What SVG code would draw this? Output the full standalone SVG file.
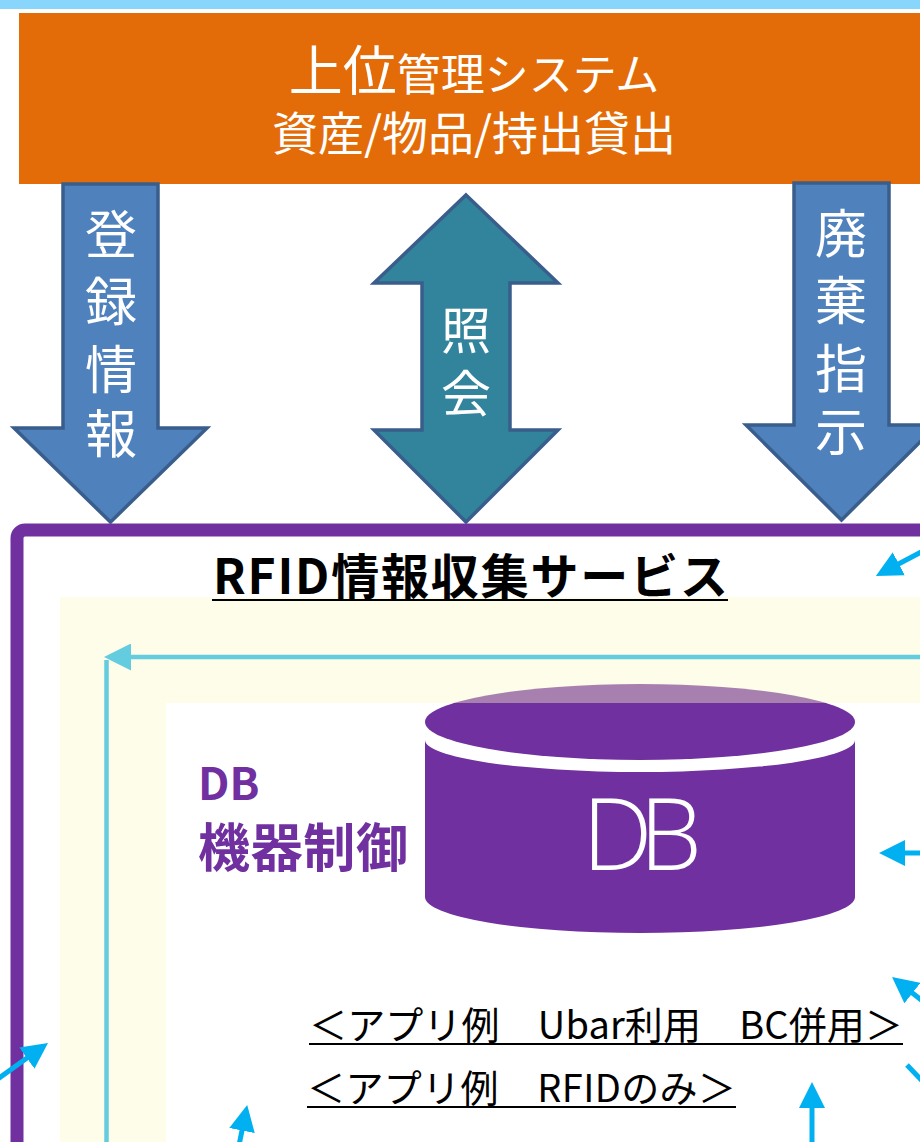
<svg xmlns="http://www.w3.org/2000/svg" width="920" height="1142" viewBox="0 0 920 1142">
  <style>
    .jp { font-family: "Noto Sans CJK JP", "Noto Sans", sans-serif; }
    .wt { fill: #FFFFFF; }
    .blk { stroke: #3A5E8C; stroke-width: 3.5; stroke-linejoin: miter; }
    .cy { stroke: #00B0F0; stroke-width: 5; fill: none; }
    .ul { stroke: #000000; stroke-width: 2.2; }
  </style>
  <defs>
    <marker id="cyHead" markerUnits="userSpaceOnUse" markerWidth="26" markerHeight="26" refX="10" refY="13" orient="auto">
      <path d="M0,0 L26,13 L0,26 Z" fill="#00B0F0"/>
    </marker>
    <marker id="tlHead" markerUnits="userSpaceOnUse" markerWidth="27" markerHeight="27" refX="10" refY="13.5" orient="auto">
      <path d="M0,0 L27,13.5 L0,27 Z" fill="#63CCDF"/>
    </marker>
  </defs>

  <rect x="0" y="0" width="920" height="1142" fill="#FFFFFF"/>
  <rect x="0" y="0" width="920" height="9" fill="#89D6FD"/>

  <g id="upper-system">
    <rect x="19" y="13" width="920" height="171" fill="#E36C09"/>
    <text class="jp wt" text-anchor="middle"><tspan x="474" y="91" font-size="54">上位</tspan><tspan font-size="44">管理システム</tspan><tspan x="474" y="150" font-size="46">資産/物品/持出貸出</tspan></text>
  </g>

  <g id="arrow-register">
    <path class="blk" d="M63,184 L158,184 L158,428 L207,428 L110.5,522 L14,428 L63,428 Z" fill="#4F81BD"/>
    <text class="jp wt" font-size="52" text-anchor="middle"><tspan x="111" y="254">登</tspan><tspan x="111" y="321">録</tspan><tspan x="111" y="389">情</tspan><tspan x="111" y="453">報</tspan></text>
  </g>

  <g id="arrow-query">
    <path class="blk" d="M466,195 L558,283 L510,283 L510,430 L558,430 L466,522 L374,430 L422,430 L422,283 L374,283 Z" fill="#31849B"/>
    <text class="jp wt" font-size="50" text-anchor="middle"><tspan x="466" y="349">照</tspan><tspan x="466" y="412">会</tspan></text>
  </g>

  <g id="arrow-dispose">
    <path class="blk" d="M794,183 L889,183 L889,425 L937,425 L841.5,520 L746,425 L794,425 Z" fill="#4F81BD"/>
    <text class="jp wt" font-size="52" text-anchor="middle"><tspan x="841" y="253">廃</tspan><tspan x="841" y="320">棄</tspan><tspan x="841" y="388">指</tspan><tspan x="841" y="451">示</tspan></text>
  </g>

  <g id="rfid-service">
    <rect x="17" y="530" width="1000" height="700" rx="8" fill="#FFFFFF" stroke="#7030A0" stroke-width="13"/>
  </g>

  <g id="db-cylinder">
    <path d="M425,740 A215,32 0 0 0 855,740 L855,897 A215,36 0 0 1 425,897 Z" fill="#7030A0"/>
    <ellipse cx="640" cy="722" rx="215" ry="38" fill="#7030A0"/>
  </g>

  <g id="device-layer">
    <path d="M60,597 L940,597 L940,703 L166,703 L166,1160 L60,1160 Z" fill="#FCFAC8" fill-opacity="0.4"/>
  </g>

  <g id="connectors">
    <line x1="930" y1="657" x2="121" y2="657" stroke="#63CCDF" stroke-width="4.5" marker-end="url(#tlHead)"/>
    <line x1="106.5" y1="660" x2="106.5" y2="1150" stroke="#63CCDF" stroke-width="4.5"/>
    <line class="cy" x1="925" y1="550" x2="890" y2="568.5" marker-end="url(#cyHead)"/>
    <line class="cy" x1="925" y1="853" x2="895" y2="853" marker-end="url(#cyHead)"/>
    <line class="cy" x1="925" y1="1003" x2="904.6" y2="986.9" marker-end="url(#cyHead)"/>
    <line class="cy" x1="907" y1="1065" x2="925" y2="1084"/>
    <line class="cy" x1="812" y1="1150" x2="812" y2="1098" marker-end="url(#cyHead)"/>
    <line class="cy" x1="236" y1="1160" x2="244" y2="1120.7" marker-end="url(#cyHead)"/>
    <line class="cy" x1="-5" y1="1081" x2="35" y2="1052.3" marker-end="url(#cyHead)"/>
  </g>

  <g id="labels">
    <text class="jp" x="213" y="594" font-size="48" font-weight="700" fill="#000000" textLength="515">RFID情報収集サービス</text>
    <line class="ul" x1="212" y1="600" x2="728" y2="600"/>
    <text class="jp" x="198" y="800" font-size="44" font-weight="700" fill="#7030A0">DB</text>
    <text class="jp" x="198" y="867" font-size="52" font-weight="700" fill="#7030A0" textLength="210">機器制御</text>
    <text x="642" y="870" font-family="'Open Sans', 'Liberation Sans', sans-serif" font-weight="300" font-size="100" fill="#FFFFFF" text-anchor="middle" textLength="120">DB</text>
    <text class="jp" x="309" y="1039" font-size="38" fill="#000000" textLength="594">＜アプリ例　Ubar利用　BC併用＞</text>
    <line class="ul" x1="309" y1="1044" x2="903" y2="1044"/>
    <text class="jp" x="307" y="1102" font-size="38" fill="#000000" textLength="429">＜アプリ例　RFIDのみ＞</text>
    <line class="ul" x1="307" y1="1107" x2="736" y2="1107"/>
  </g>
</svg>
